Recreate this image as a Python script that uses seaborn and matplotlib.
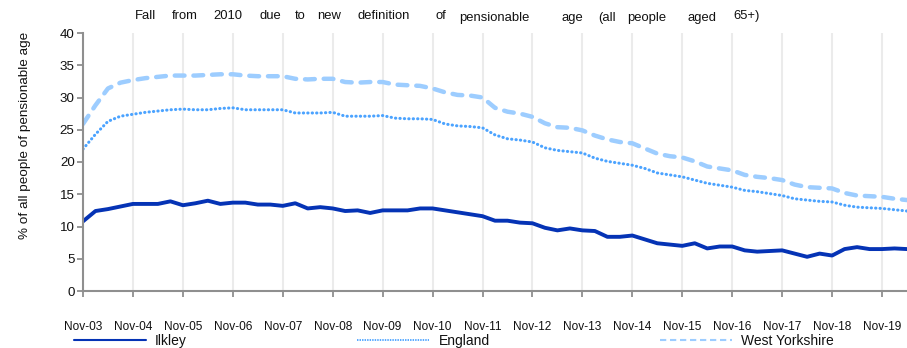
import matplotlib
matplotlib.use("Agg")
import matplotlib.pyplot as plt
from matplotlib.lines import Line2D
import numpy as np
import pandas as pd
import seaborn as sns

# Quarterly share of people of pensionable age, Nov-03 onwards
ilkley = [10.8, 12.4, 12.7, 13.1, 13.5, 13.5, 13.5, 13.9, 13.3, 13.6,
          14.0, 13.5, 13.7, 13.7, 13.4, 13.4, 13.2, 13.6, 12.8, 13.0,
          12.8, 12.4, 12.5, 12.1, 12.5, 12.5, 12.5, 12.8, 12.8, 12.5,
          12.2, 11.9, 11.6, 10.9, 10.9, 10.6, 10.5, 9.8, 9.4, 9.7,
          9.4, 9.3, 8.4, 8.4, 8.6, 8.0, 7.4, 7.2, 7.0, 7.4,
          6.6, 6.9, 6.9, 6.3, 6.1, 6.2, 6.3, 5.8, 5.3, 5.8,
          5.5, 6.5, 6.8, 6.5, 6.5, 6.6, 6.5]
england = [22.0, 24.3, 26.3, 27.1, 27.4, 27.7, 27.9, 28.1, 28.2, 28.1,
           28.1, 28.3, 28.4, 28.1, 28.1, 28.1, 28.1, 27.6, 27.6, 27.6,
           27.7, 27.1, 27.1, 27.1, 27.2, 26.8, 26.7, 26.7, 26.6, 25.9,
           25.6, 25.5, 25.3, 24.2, 23.6, 23.4, 23.1, 22.2, 21.8, 21.6,
           21.4, 20.6, 20.1, 19.8, 19.5, 19.0, 18.3, 18.0, 17.7, 17.2,
           16.7, 16.4, 16.1, 15.6, 15.4, 15.1, 14.8, 14.3, 14.1, 13.9,
           13.8, 13.3, 13.0, 12.9, 12.8, 12.6, 12.4]
west_yorkshire = [25.9, 28.8, 31.4, 32.3, 32.7, 33.0, 33.2, 33.4, 33.4, 33.4,
                  33.5, 33.6, 33.6, 33.4, 33.3, 33.3, 33.3, 32.9, 32.8, 32.9,
                  32.9, 32.4, 32.3, 32.4, 32.4, 32.0, 31.9, 31.8, 31.4, 30.8,
                  30.4, 30.3, 30.0, 28.4, 27.8, 27.5, 27.0, 26.0, 25.4, 25.3,
                  24.9, 24.1, 23.5, 23.1, 22.9, 22.1, 21.3, 20.9, 20.7, 20.1,
                  19.3, 19.0, 18.7, 18.0, 17.7, 17.5, 17.2, 16.5, 16.1, 16.0,
                  15.9, 15.2, 14.8, 14.7, 14.6, 14.3, 14.1]
series_names = ["Ilkley", "England", "West Yorkshire"]
tick_labels = ["Nov-03", "Nov-04", "Nov-05", "Nov-06", "Nov-07", "Nov-08",
               "Nov-09", "Nov-10", "Nov-11", "Nov-12", "Nov-13", "Nov-14",
               "Nov-15", "Nov-16", "Nov-17", "Nov-18", "Nov-19"]
y_label = "% of all people of pensionable age"
title_words = ["Fall", "from", "2010", "due", "to", "new", "definition", "of",
               "pensionable", "age", "(all", "people", "aged", "65+)"]
title_word_x = [135, 172, 213, 259, 295, 317, 357, 435,
                459, 562, 598, 627, 687, 733]
title_word_base = [19, 19, 19, 19, 19, 19, 19, 19,
                   20.7, 20.7, 20.7, 20.7, 20.7, 19]

quarter = np.arange(len(ilkley))
df = pd.DataFrame({"quarter": quarter, "Ilkley": ilkley,
                   "England": england, "West Yorkshire": west_yorkshire})

sns.set_theme(style="white")
plt.rcParams["font.family"] = ["Liberation Sans", "DejaVu Sans"]

W, H = 907, 348
fig = plt.figure(figsize=(W / 100, H / 100), dpi=100)
ax = fig.add_axes([83 / W, (H - 291) / H, (W - 83) / W, (291 - 33) / H])

grey = "#8f8f8f"
c_ilk, c_eng, c_wy = "#0533b5", "#4ba3ff", "#9dcdff"
for xv in range(0, 65, 4):
    ax.axvline(xv, color="#ebebeb", lw=1.5, zorder=0)

sns.lineplot(data=df, x="quarter", y="Ilkley", ax=ax, color=c_ilk,
             lw=2.8, solid_capstyle="round", legend=False)
sns.lineplot(data=df, x="quarter", y="England", ax=ax, color=c_eng,
             lw=2.2, dashes=(0.1, 1.35), dash_capstyle="round", legend=False)
sns.lineplot(data=df, x="quarter", y="West Yorkshire", ax=ax, color=c_wy,
             lw=3.2, dashes=(2.2, 2.0), dash_capstyle="round", legend=False)

ax.set_xlim(0, 66)
ax.set_ylim(0, 40)
ax.set_xticks(range(0, 65, 4))
ax.set_xticklabels(tick_labels, fontsize=8.6, color="#111111")
ax.set_yticks(range(0, 41, 5))
ax.tick_params(axis="y", labelsize=9.6, colors="#111111", length=4.5,
               width=1.3, color=grey, pad=1.5, left=True)
ax.tick_params(axis="x", length=4.5, width=1.3, color=grey, pad=17,
               bottom=True)
for side in ("top", "right"):
    ax.spines[side].set_visible(False)
for side in ("left", "bottom"):
    ax.spines[side].set_color(grey)
    ax.spines[side].set_linewidth(1.5)
ax.set_xlabel("")
ax.set_ylabel("")
fig.text(25 / W, 1 - 135 / H, y_label, rotation=90, ha="center",
         va="center", fontsize=9.7, color="#111111")

# thin legend keys
handles = [
    Line2D([], [], color=c_ilk, lw=1.5),
    Line2D([], [], color=c_eng, lw=1.3, dashes=(0.8, 0.6)),
    Line2D([], [], color=c_wy, lw=1.5, dashes=(3.0, 1.8)),
]
fig.legend(handles, series_names, loc="center left", ncol=3, frameon=False,
           bbox_to_anchor=(74 / W, 1 - 341 / H), borderpad=0,
           borderaxespad=0, handlelength=5.2, handletextpad=0.65,
           columnspacing=12.25, fontsize=10, labelcolor="#111111")

for word, xw, yb in zip(title_words, title_word_x, title_word_base):
    fig.text(xw / W, 1 - yb / H, word, ha="left", va="baseline",
             fontsize=9.4, color="#111111")

fig.savefig("out.png", dpi=100)
